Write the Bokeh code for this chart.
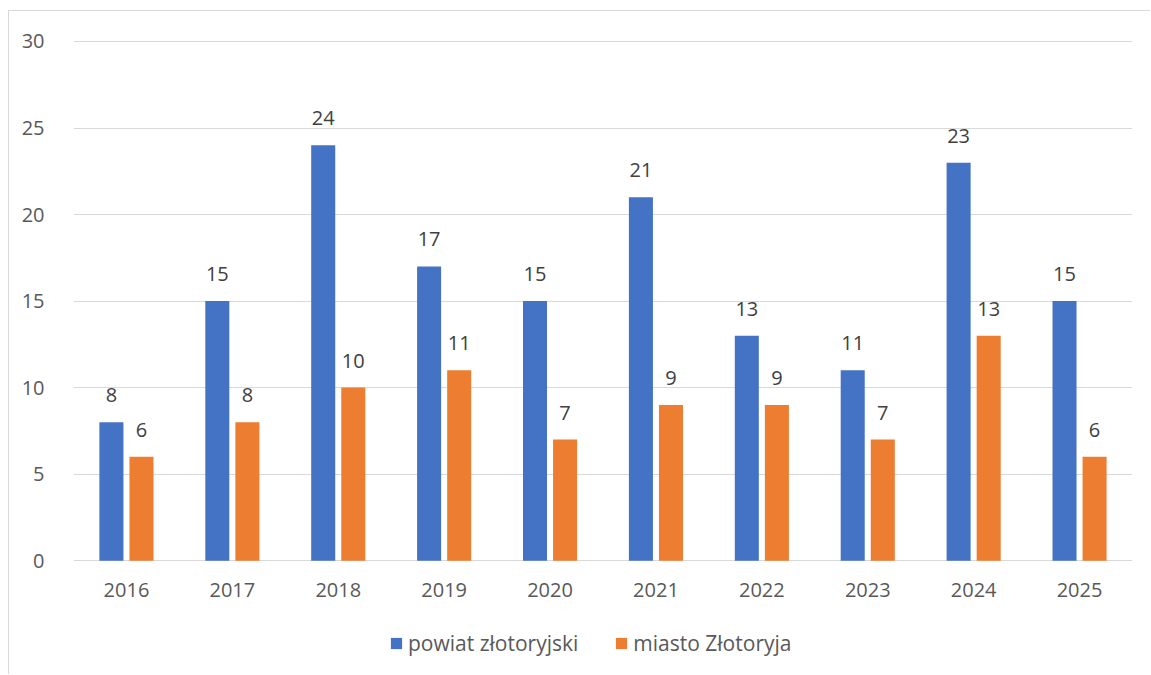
from bokeh.plotting import figure
from bokeh.models import ColumnDataSource, Legend, LegendItem, FactorRange
from bokeh.transform import dodge
from bokeh.core.properties import value
from bokeh.embed import file_html
from bokeh.resources import INLINE

years = ["2016", "2017", "2018", "2019", "2020", "2021", "2022", "2023", "2024", "2025"]
powiat = [8, 15, 24, 17, 15, 21, 13, 11, 23, 15]
miasto = [6, 8, 10, 11, 7, 9, 9, 7, 13, 6]
y_ticks = [0, 5, 10, 15, 20, 25, 30]

src = ColumnDataSource(dict(
    year=years, powiat=powiat, miasto=miasto, base=[0] * len(years),
    powiat_lbl=[str(v) for v in powiat], miasto_lbl=[str(v) for v in miasto],
))

FONT = "Open Sans"
BLUE = "#4472c4"
ORANGE = "#ed7d31"
GRID = "#d9d9d9"

# frame: top 40, y=0 at 560, bottom 670 -> 17.333 px per unit
PX = 520 / 30.0
y_end = 30 + 1 / PX
y_start = y_end - 631 / PX

p = figure(x_range=FactorRange(*years, range_padding=0), y_range=(y_start, y_end),
           width=1142, height=664, output_backend="svg", toolbar_location=None,
           min_border_left=64, min_border_right=19, min_border_top=29, min_border_bottom=5)
p.styles = {"margin-top": "10px", "margin-left": "8px",
            "border-top": f"1px solid {GRID}", "border-left": f"1px solid {GRID}"}
p.outline_line_color = None
p.xaxis.visible = False

off = 0.142
r1 = p.vbar(x=dodge("year", -off, range=p.x_range), top="powiat", width=0.227, source=src,
            fill_color=BLUE, line_color=None)
r2 = p.vbar(x=dodge("year", off, range=p.x_range), top="miasto", width=0.227, source=src,
            fill_color=ORANGE, line_color=None)

p.text(x=dodge("year", -off, range=p.x_range), y="powiat", text="powiat_lbl", source=src,
       text_align="center", text_baseline="alphabetic", y_offset=-27,
       text_font=value(FONT), text_font_size="20px", text_color="#404040")
p.text(x=dodge("year", off, range=p.x_range), y="miasto", text="miasto_lbl", source=src,
       text_align="center", text_baseline="alphabetic", y_offset=-27,
       text_font=value(FONT), text_font_size="20px", text_color="#404040")

# category labels under the baseline
p.text(x="year", y="base", text="year", source=src,
       text_align="center", text_baseline="alphabetic", y_offset=29,
       text_font=value(FONT), text_font_size="20px", text_color="#595959")

p.yaxis.ticker = y_ticks
p.yaxis.axis_line_color = None
p.yaxis.major_tick_line_color = None
p.yaxis.minor_tick_line_color = None
p.yaxis.major_label_standoff = 23
p.yaxis.major_label_text_font = FONT
p.yaxis.major_label_text_font_size = "20px"
p.yaxis.major_label_text_color = "#595959"

p.xgrid.grid_line_color = None
p.ygrid.grid_line_color = GRID
p.ygrid.grid_line_width = 1

legend = Legend(items=[LegendItem(label="powiat złotoryjski", renderers=[r1]),
                       LegendItem(label="miasto Złotoryja", renderers=[r2])],
                orientation="horizontal", location=(316, 13),
                label_text_font=FONT, label_text_font_size="21px", label_text_color="#595959",
                glyph_width=14, glyph_height=14, spacing=36, label_standoff=5,
                border_line_color=None, background_fill_alpha=0, margin=0, padding=0)
p.add_layout(legend, "center")

open("out.html", "w").write(file_html(p, INLINE))
